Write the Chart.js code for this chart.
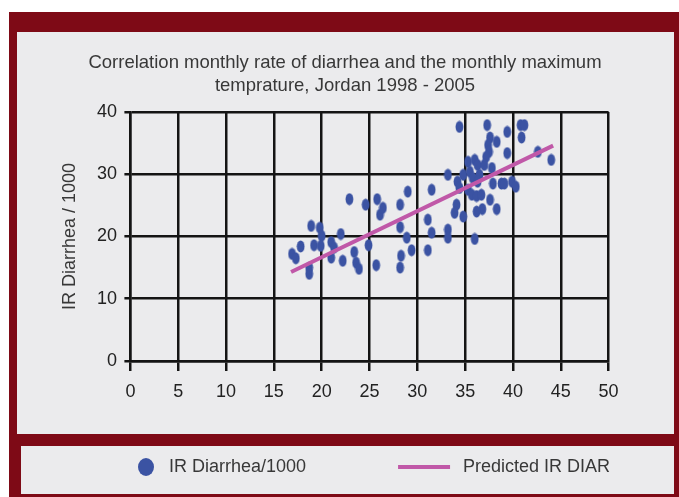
<!DOCTYPE html>
<html>
<head>
<meta charset="utf-8">
<script src="https://cdn.jsdelivr.net/npm/chart.js@4/dist/chart.umd.min.js"></script>
<style>
  html, body { margin: 0; padding: 0; width: 679px; height: 497px; overflow: hidden; background: #ffffff; }
  .panel { position: absolute; }
  #frame { left: 9px; top: 12px; width: 670px; height: 485px; background: #7e0a16; }
  #plotPanel { left: 17px; top: 32px; width: 657px; height: 402px; background: #ebebed; }
  #legendPanel { left: 21px; top: 446px; width: 653px; height: 48px; background: #ebebed; }
  #chartBox { position: absolute; left: -10px; top: 0; width: 710px; height: 497px; }
</style>
</head>
<body>
<div id="frame" class="panel"></div>
<div id="plotPanel" class="panel"></div>
<div id="legendPanel" class="panel"></div>
<div id="chartBox"><canvas id="corrChart"></canvas></div>

<script>
// monthly maximum temperature (x) and diarrhea rate per 1000 (y)
const maxTemp = [
  16.9, 17.3, 17.8, 18.7, 18.7, 18.9, 19.2, 19.8, 20.0, 19.9, 21.0, 21.3, 21.0,
  22.0, 22.2, 22.9, 23.4, 23.6, 23.9, 24.9, 25.7, 25.8, 26.1, 26.4, 24.6,
  28.2, 29.0, 31.5, 31.1, 31.5, 33.2, 33.2, 28.2, 28.9, 29.4, 31.1, 28.3, 28.2,
  33.2, 34.1, 33.9,
  34.4, 37.3, 40.8, 41.2, 40.9, 39.4, 37.6, 38.3, 37.4, 37.5, 39.4, 42.6, 44.0,
  37.2, 35.3, 36.0, 36.3, 37.0, 37.8, 34.8, 35.5, 36.5, 34.2, 35.8, 36.3, 37.9,
  38.8, 39.1, 39.9, 40.3, 34.4, 35.3, 35.7, 36.2, 36.7, 37.6, 36.8, 38.3, 36.2,
  34.8, 36.0
];
const diarrheaRate = [
  17.2, 16.5, 18.4, 15.0, 14.0, 21.7, 18.6, 21.4, 20.1, 18.5, 19.1, 18.2, 16.6,
  20.4, 16.1, 26.0, 17.5, 15.8, 14.8, 18.6, 15.4, 26.0, 23.5, 24.6, 25.1,
  25.1, 27.2, 27.5, 22.7, 20.6, 21.1, 19.8, 21.5, 19.8, 17.8, 17.8, 16.9, 15.0,
  29.9, 25.1, 23.8,
  37.6, 37.9, 37.9, 37.9, 35.9, 36.8, 35.9, 35.2, 34.7, 33.6, 33.4, 33.6, 32.3,
  32.8, 32.0, 32.3, 31.5, 31.5, 31.0, 29.9, 30.4, 29.9, 28.8, 29.4, 28.8, 28.5,
  28.5, 28.5, 28.8, 28.0, 27.8, 27.5, 26.7, 26.5, 26.7, 25.9, 24.4, 24.4, 24.0,
  23.2, 19.6
];

// end points of the fitted line
const trendTemp = [16.8, 44.2];
const trendRate = [14.3, 34.6];

const titleLines = [
  'Correlation monthly rate of diarrhea and the monthly maximum',
  'temprature, Jordan 1998 - 2005'
];
const seriesNames = ['IR Diarrhea/1000', 'Predicted IR DIAR'];

const pointBlue = '#3b53a3';
const lineMagenta = '#c058a8';
const gridBlack = '#141414';
const textGrey = '#383838';

function makeCanvas(w, h, draw) {
  let c = document.createElement('canvas');
  c.width = w;
  c.height = h;
  draw(c.getContext('2d'));
  return c;
}

// tall blue blobs used for the observations
const dotImage = makeCanvas(9, 13, ctx => {
  ctx.fillStyle = pointBlue;
  ctx.beginPath();
  ctx.ellipse(4.5, 6.5, 3.9, 5.9, 0, 0, Math.PI * 2);
  ctx.fill();
});

// legend markers, each drawn inside an 80px wide legend box
const legendDot = makeCanvas(80, 20, ctx => {
  ctx.fillStyle = pointBlue;
  ctx.beginPath();
  ctx.ellipse(66, 10, 8, 9, 0, 0, Math.PI * 2);
  ctx.fill();
});
const legendLine = makeCanvas(80, 4, ctx => {
  ctx.fillStyle = lineMagenta;
  ctx.fillRect(24, 0, 52, 4);
});

const points = maxTemp.map((t, i) => ({x: t, y: diarrheaRate[i]}));
const trend = trendTemp.map((t, i) => ({x: t, y: trendRate[i]}));

const tickFont = {family: '"Liberation Sans", Arial, sans-serif', size: 18};

new Chart(document.getElementById('corrChart'), {
  type: 'scatter',
  data: {
    datasets: [{
      label: seriesNames[0],
      data: points,
      pointStyle: dotImage,
      backgroundColor: pointBlue,
      borderColor: pointBlue,
      order: 1
    }, {
      label: seriesNames[1],
      data: trend,
      showLine: true,
      borderColor: lineMagenta,
      backgroundColor: lineMagenta,
      borderWidth: 4,
      pointRadius: 0,
      order: 0
    }]
  },
  options: {
    responsive: true,
    maintainAspectRatio: false,
    animation: false,
    layout: {padding: {left: 0, right: 0, top: 0, bottom: 11}},
    plugins: {
      tooltip: {enabled: false},
      title: {
        display: true,
        text: titleLines,
        color: textGrey,
        font: {family: '"Liberation Sans", Arial, sans-serif', size: 18.5, weight: 'normal', lineHeight: 1.243},
        padding: {top: 51.5, bottom: 14.5}
      },
      legend: {
        position: 'bottom',
        labels: {
          usePointStyle: true,
          pointStyleWidth: 80,
          padding: 68,
          color: textGrey,
          font: tickFont,
          generateLabels: chart => [
            {text: seriesNames[0], pointStyle: legendDot, fillStyle: pointBlue, strokeStyle: pointBlue, lineWidth: 0, datasetIndex: 0, fontColor: textGrey},
            {text: seriesNames[1], pointStyle: legendLine, fillStyle: lineMagenta, strokeStyle: lineMagenta, lineWidth: 0, datasetIndex: 1, fontColor: textGrey}
          ]
        }
      }
    },
    scales: {
      x: {
        type: 'linear',
        min: 0,
        max: 50,
        // mirror only to stop the labels being clipped by the short axis box
        ticks: {stepSize: 5, color: '#222222', font: tickFont, mirror: true, padding: -41.8},
        grid: {color: gridBlack, lineWidth: 2.5, tickLength: 10, tickWidth: 2.5, tickColor: gridBlack},
        border: {color: gridBlack, width: 2.5},
        afterFit: scale => { scale.height = 29; }
      },
      y: {
        type: 'linear',
        min: 0,
        max: 40,
        ticks: {stepSize: 10, color: '#222222', font: tickFont, padding: 7.4},
        grid: {color: gridBlack, lineWidth: 2.5, tickLength: 6, tickWidth: 2.5, tickColor: gridBlack},
        border: {color: gridBlack, width: 2.5},
        title: {
          display: true,
          text: 'IR Diarrhea / 1000',
          color: textGrey,
          font: tickFont,
          padding: {top: 69.2, bottom: 0}
        },
        afterFit: scale => { scale.width = 140.4; }
      },
      // empty scale that only reserves the space right of the plot
      spacer: {
        type: 'linear',
        position: 'right',
        display: true,
        ticks: {display: false},
        grid: {display: false},
        border: {display: false},
        afterFit: scale => { scale.width = 91.4; }
      }
    }
  }
});
</script>
</body>
</html>
